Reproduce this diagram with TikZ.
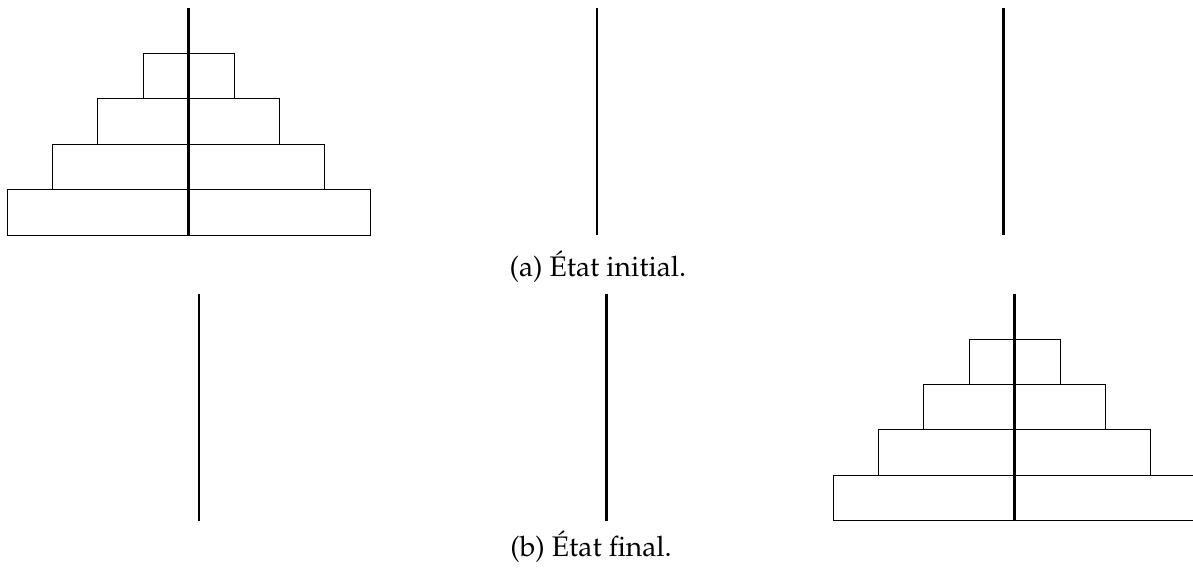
\documentclass[tikz,border=0pt]{standalone}
\usepackage[T1]{fontenc}
\usepackage{mathpazo}
\usepackage{tikz}
\usetikzlibrary{positioning,calc}

\begin{document}
\begin{tikzpicture}[
    disk/.style={draw, line width=0.6pt},
    peg/.style={line width=1.8pt},
    subcap/.style={anchor=base, inner sep=0pt, font=\fontsize{17.7}{21}\selectfont}
]
    \useasboundingbox (0,0) rectangle (26.278,-12.577);

    % (a) initial state
    \coordinate (a1) at (4.156,-5.176);
    \coordinate (a2) at (13.15,-5.176);
    \coordinate (a3) at (22.11,-5.176);
    \foreach \r in {1,...,4}
        \draw[disk] ($(a1)+(-\r,4-\r)$) rectangle ($(a1)+(\r,5-\r)$);
    \foreach \p in {a1,a2,a3}
        \draw[peg] (\p) -- ++(0,5);
    \node[subcap] (capa) at (13.17,-6.08) {(a) \'Etat initial.};

    % (b) final state
    \coordinate (b1) at (4.383,-11.469);
    \coordinate (b2) at (13.36,-11.469);
    \coordinate (b3) at (22.35,-11.469);
    \foreach \r in {1,...,4}
        \draw[disk] ($(b3)+(-\r,4-\r)$) rectangle ($(b3)+(\r,5-\r)$);
    \foreach \p in {b1,b2,b3}
        \draw[peg] (\p) -- ++(0,5);
    \node[subcap] (capb) at (13.02,-12.26) {(b) \'Etat final.};
\end{tikzpicture}
\end{document}
